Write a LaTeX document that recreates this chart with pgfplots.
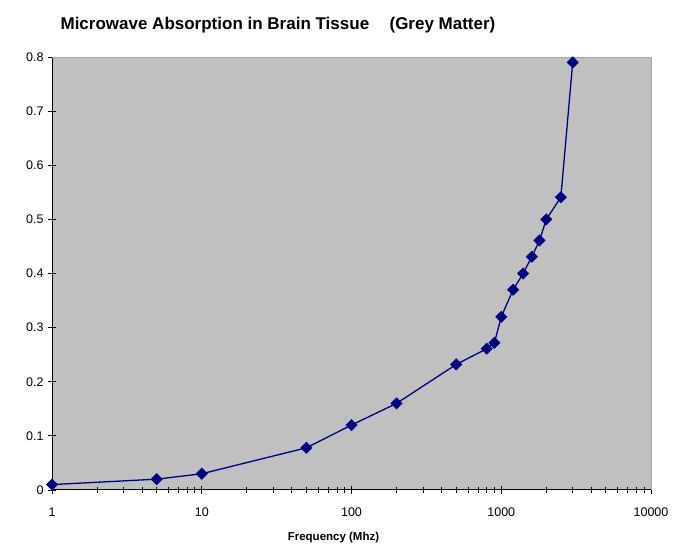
\documentclass[border=0pt]{standalone}
\usepackage{fontspec}
\setmainfont{Liberation Sans}
\usepackage{pgfplots}
\pgfplotsset{compat=1.18}
\definecolor{bggrey}{RGB}{192,192,192}
\definecolor{navyline}{RGB}{0,0,128}
\begin{document}
\begin{tikzpicture}
\begin{axis}[
  scale only axis,
  width=599pt, height=433pt,
  xmode=log,
  xmin=1, xmax=10000,
  ymin=0, ymax=0.8,
  ytick={0,0.1,...,0.8},
  yticklabels={0,0.1,0.2,0.3,0.4,0.5,0.6,0.7,0.8},
  xtick={1,10,100,1000,10000},
  xticklabels={1,10,100,1000,10000},
  minor x tick num=8,
  axis background/.style={fill=bggrey},
  axis x line*=bottom, axis y line*=left,
  axis line style={black, line width=1pt, -},
  xtick pos=bottom, ytick pos=left,
  tick align=center,
  major tick length=8pt,
  minor tick length=6pt,
  tick style={black, line width=0.9pt},
  tick label style={font=\fontsize{12.5}{15}\selectfont},
  yticklabel style={xshift=-1pt},
  xticklabel style={yshift=-10pt},
  /pgf/number format/assume math mode=true,
  xlabel={\textbf{Frequency (Mhz)}},
  xlabel style={font=\fontsize{11.5}{14}\selectfont, yshift=-9pt, xshift=-18pt},
  clip=false,
]
\draw[gray!70, line width=0.8pt] (axis cs:1,0.8) -- (axis cs:10000,0.8) -- (axis cs:10000,0);
\addplot[navyline, line width=1.3pt, mark=square*, mark size=4pt, mark options={rotate=45, fill=navyline, draw=navyline, line width=0.5pt}] coordinates {
(1,0.010) (5,0.020) (10,0.030) (50,0.078) (100,0.120) (200,0.160)
(500,0.232) (800,0.261) (900,0.272) (1000,0.320) (1200,0.370)
(1400,0.400) (1600,0.431) (1800,0.461) (2000,0.500) (2500,0.541) (3000,0.790)
};
\end{axis}
\node[anchor=base, font=\bfseries\fontsize{17}{20}\selectfont] at ([xshift=-52pt]current axis.north west) [xshift=278pt, yshift=27pt] {Microwave Absorption in Brain Tissue\hspace{1.2em}(Grey Matter)};
\path ([xshift=-52pt,yshift=-65pt]current axis.south west) rectangle ([xshift=29pt,yshift=57pt]current axis.north east);
\end{tikzpicture}
\end{document}
